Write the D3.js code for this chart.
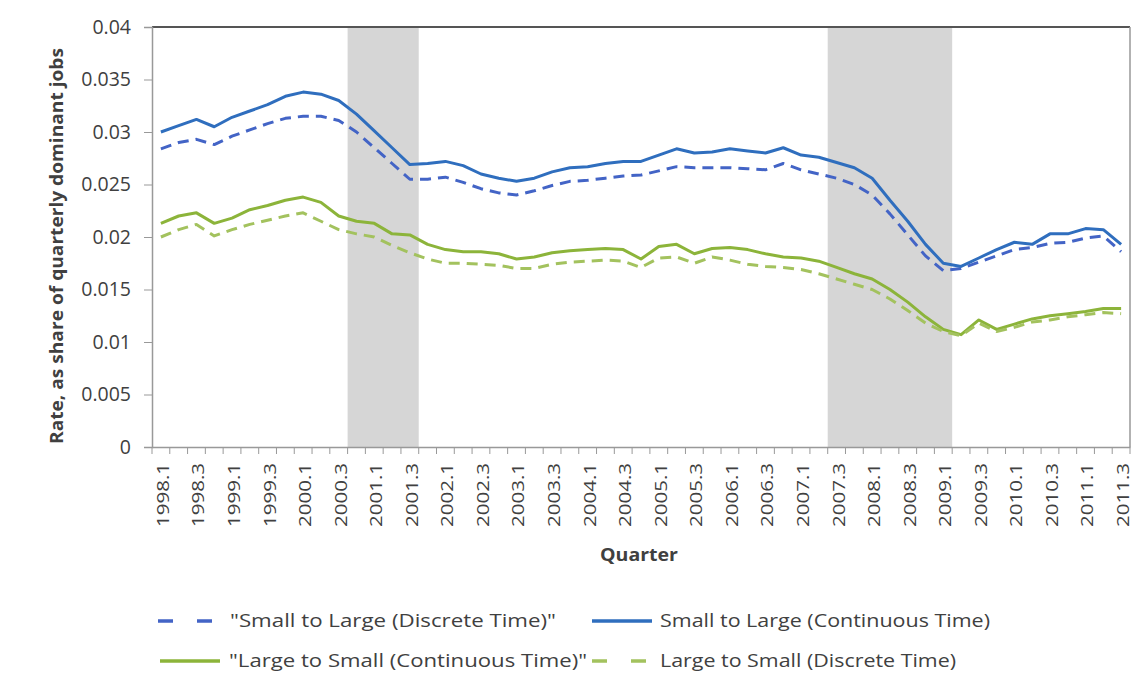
<!DOCTYPE html>
<html><head><meta charset="utf-8">
<script src="https://cdn.jsdelivr.net/npm/d3@7"></script>
<style>body{margin:0;background:#fff;} text{font-family:"Open Sans","Noto Sans",sans-serif;fill:#404040;}</style>
</head><body><svg id="c" width="1135" height="679"></svg>
<script>
const quarters = [];
for (let y = 1998; y <= 2011; y++) for (let q = 1; q <= 4; q++) { if (y === 2011 && q > 3) break; quarters.push(y + "." + q); }

const smallLargeCont = [0.0300,0.0306,0.0312,0.0305,0.0314,0.0320,0.0326,0.0334,0.0338,0.0336,0.0330,0.0317,0.0301,0.0285,0.0269,0.0270,0.0272,0.0268,0.0260,0.0256,0.0253,0.0256,0.0262,0.0266,0.0267,0.0270,0.0272,0.0272,0.0278,0.0284,0.0280,0.0281,0.0284,0.0282,0.0280,0.0285,0.0278,0.0276,0.0271,0.0266,0.0256,0.0235,0.0215,0.0193,0.0175,0.0172,0.0180,0.0188,0.0195,0.0193,0.0203,0.0203,0.0208,0.0207,0.0193];
const smallLargeDisc = [0.0284,0.0290,0.0293,0.0288,0.0296,0.0302,0.0308,0.0313,0.0315,0.0315,0.0311,0.0300,0.0285,0.0270,0.0255,0.0255,0.0257,0.0252,0.0246,0.0242,0.0240,0.0244,0.0249,0.0253,0.0254,0.0256,0.0258,0.0259,0.0263,0.0267,0.0266,0.0266,0.0266,0.0265,0.0264,0.0270,0.0264,0.0260,0.0256,0.0250,0.0240,0.0222,0.0202,0.0182,0.0168,0.0170,0.0176,0.0182,0.0188,0.0190,0.0194,0.0195,0.0199,0.0201,0.0186];
const largeSmallCont = [0.0213,0.0220,0.0223,0.0213,0.0218,0.0226,0.0230,0.0235,0.0238,0.0233,0.0220,0.0215,0.0213,0.0203,0.0202,0.0193,0.0188,0.0186,0.0186,0.0184,0.0179,0.0181,0.0185,0.0187,0.0188,0.0189,0.0188,0.0179,0.0191,0.0193,0.0184,0.0189,0.0190,0.0188,0.0184,0.0181,0.0180,0.0177,0.0171,0.0165,0.0160,0.0150,0.0138,0.0124,0.0112,0.0107,0.0121,0.0112,0.0117,0.0122,0.0125,0.0127,0.0129,0.0132,0.0132];
const largeSmallDisc = [0.0200,0.0207,0.0212,0.0201,0.0207,0.0212,0.0216,0.0220,0.0223,0.0215,0.0207,0.0203,0.0200,0.0192,0.0185,0.0179,0.0175,0.0175,0.0174,0.0173,0.0170,0.0170,0.0174,0.0176,0.0177,0.0178,0.0177,0.0171,0.0180,0.0181,0.0175,0.0181,0.0178,0.0174,0.0172,0.0171,0.0169,0.0165,0.0160,0.0155,0.0150,0.0141,0.0130,0.0118,0.0110,0.0106,0.0118,0.0110,0.0114,0.0119,0.0121,0.0124,0.0126,0.0128,0.0127];
const recessions = [["2000.4","2001.3"],["2007.3","2009.1"]];
const yTicks = [0,0.005,0.01,0.015,0.02,0.025,0.03,0.035,0.04];
const yTickLabels = ["0","0.005","0.01","0.015","0.02","0.025","0.03","0.035","0.04"];

const series = [
  {name:'"Small to Large (Discrete Time)"', values:smallLargeDisc, color:"#4364c6", dash:"11,7"},
  {name:"Small to Large (Continuous Time)", values:smallLargeCont, color:"#2f6ebe", dash:null},
  {name:'"Large to Small (Continuous Time)"', values:largeSmallCont, color:"#8cb43a", dash:null},
  {name:"Large to Small (Discrete Time)", values:largeSmallDisc, color:"#a3c25e", dash:"11,7"}
];

const svg = d3.select("#c");
const L = 152, R = 1130, T = 27, B = 447;
const x = d3.scaleBand().domain(quarters).range([L, R]).padding(0);
const y = d3.scaleLinear().domain([0, 0.04]).range([B, T]);

// recession shading
svg.append("g").selectAll("rect").data(recessions).join("rect")
  .attr("x", d => x(d[0])).attr("width", d => x(d[1]) + x.bandwidth() - x(d[0]))
  .attr("y", y(0.04)).attr("height", y(0) - y(0.04)).attr("fill", "#d6d6d6");

// frame
svg.append("line").attr("x1", L).attr("x2", R).attr("y1", T).attr("y2", T).attr("stroke", "#555").attr("stroke-width", 2);
svg.append("line").attr("x1", R).attr("x2", R).attr("y1", T).attr("y2", B).attr("stroke", "#999").attr("stroke-width", 1.5);

// y axis
const ya = svg.append("g").attr("transform", `translate(${L},0)`)
  .call(d3.axisLeft(y).tickValues(yTicks).tickFormat((d,i) => yTickLabels[i]).tickSize(8).tickPadding(13));
ya.select(".domain").attr("stroke", "#999").attr("stroke-width", 1.5);
ya.selectAll(".tick line").attr("stroke", "#999");
ya.selectAll("text").style("font-size", "19.5px").attr("fill", "#555");

// x axis
const xa = svg.append("g").attr("transform", `translate(0,${B})`)
  .call(d3.axisBottom(x).tickValues(quarters.filter((d,i) => i % 2 === 0)).tickSize(0).tickPadding(0));
xa.select(".domain").attr("stroke", "#999").attr("stroke-width", 1.5);
xa.selectAll("text").style("font-size", "17px").attr("fill", "#444")
  .attr("transform", "rotate(-90)").attr("text-anchor", "end").attr("x", -16).attr("y", 2).attr("dy", "0.35em")
  .attr("textLength", 64).attr("lengthAdjust", "spacingAndGlyphs");
// category boundary ticks
svg.append("g").selectAll("line").data(quarters.concat(["end"])).join("line")
  .attr("x1", (d,i) => L + i * x.bandwidth()).attr("x2", (d,i) => L + i * x.bandwidth())
  .attr("y1", B).attr("y2", B + 7).attr("stroke", "#999");

// lines
const line = d3.line().x((d,i) => x(quarters[i]) + x.bandwidth()/2).y(d => y(d));
series.forEach(s => {
  svg.append("path").datum(s.values).attr("d", line).attr("fill", "none")
    .attr("stroke", s.color).attr("stroke-width", 3).attr("stroke-linejoin", "round")
    .attr("stroke-dasharray", s.dash);
});

// axis titles
svg.append("text").attr("transform", "translate(57,246) rotate(-90)").attr("text-anchor", "middle").attr("dy", "0.35em")
  .style("font-size", "17px").style("font-weight", "bold").attr("fill", "#222")
  .attr("textLength", 396).attr("lengthAdjust", "spacingAndGlyphs")
  .text("Rate, as share of quarterly dominant jobs");
svg.append("text").attr("x", 639).attr("y", 555).attr("text-anchor", "middle").attr("dy", "0.35em")
  .style("font-size", "18px").style("font-weight", "bold").attr("fill", "#222")
  .attr("textLength", 78).attr("lengthAdjust", "spacingAndGlyphs").text("Quarter");

// legend
const legend = [
  {sx: 158, tx: 230, y: 621, w: 326},
  {sx: 592, tx: 660, y: 621, w: 330},
  {sx: 160, tx: 229, y: 661, w: 358},
  {sx: 592, tx: 660, y: 661, w: 296}
];
series.forEach((s, i) => {
  const p = legend[i];
  const g = svg.append("g");
  g.append("line").attr("x1", p.sx).attr("x2", p.sx + 60).attr("y1", p.y).attr("y2", p.y)
    .attr("stroke", s.color).attr("stroke-width", 3.5).attr("stroke-dasharray", s.dash ? "15,24" : null);
  g.append("text").attr("x", p.tx).attr("y", p.y).attr("dy", "0.35em").style("font-size", "18px").attr("fill", "#333")
    .attr("textLength", p.w).attr("lengthAdjust", "spacingAndGlyphs").text(s.name);
});
</script></body></html>
